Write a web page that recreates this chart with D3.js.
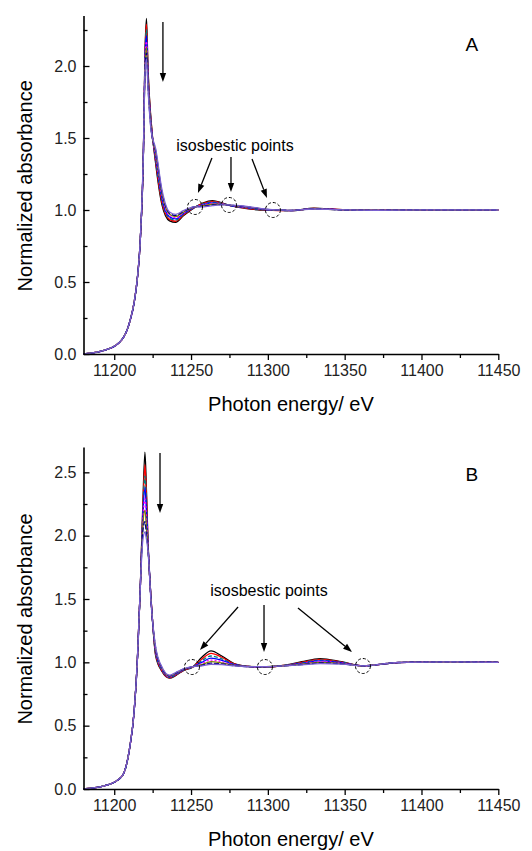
<!DOCTYPE html>
<html>
<head>
<meta charset="utf-8">
<script src="https://cdn.jsdelivr.net/npm/d3@7"></script>
<style>
  body { margin: 0; background: #fff; }
  svg { display: block; font-family: "Liberation Sans", Arial, sans-serif; }
</style>
</head>
<body>
<div id="chart"></div>
<script>
"use strict";

// photon energy grids (eV)
var energyA = [11180, 11195, 11205, 11210, 11213, 11215, 11217, 11219, 11220, 11221, 11222,
  11224, 11227, 11231, 11236, 11240, 11245, 11252, 11258, 11264, 11270, 11275, 11285,
  11295, 11303, 11315, 11330, 11345, 11370, 11400, 11450];

var energyB = [11180, 11195, 11205, 11210, 11213, 11215, 11217, 11218.5, 11220, 11221, 11222,
  11224, 11227, 11231, 11236, 11240, 11245, 11251, 11257, 11263, 11270, 11278, 11287,
  11297, 11310, 11322, 11334, 11348, 11362, 11385, 11420, 11450];

// normalized absorbance, one row per spectrum (white line decreasing with time)
var spectraA = [
  [0, 0.03, 0.10, 0.22, 0.36, 0.52, 0.80, 1.40, 2.08, 2.33, 1.98, 1.62, 1.32, 1.04, 0.925, 0.915, 0.960, 1.015, 1.050, 1.065, 1.050, 1.032, 1.012, 1.000, 0.998, 0.995, 1.012, 1.004, 0.998, 1.001, 1.0],
  [0, 0.03, 0.10, 0.22, 0.36, 0.52, 0.80, 1.40, 2.06, 2.29, 1.96, 1.61, 1.335, 1.055, 0.935, 0.922, 0.965, 1.016, 1.046, 1.060, 1.048, 1.032, 1.014, 1.002, 0.998, 0.995, 1.011, 1.004, 0.998, 1.001, 1.0],
  [0, 0.03, 0.10, 0.22, 0.36, 0.52, 0.80, 1.40, 2.04, 2.25, 1.94, 1.60, 1.35, 1.07, 0.943, 0.93, 0.970, 1.017, 1.042, 1.055, 1.046, 1.032, 1.016, 1.004, 0.999, 0.996, 1.010, 1.003, 0.998, 1.001, 1.0],
  [0, 0.03, 0.10, 0.22, 0.36, 0.52, 0.80, 1.40, 2.02, 2.21, 1.92, 1.59, 1.365, 1.085, 0.952, 0.938, 0.975, 1.018, 1.038, 1.050, 1.044, 1.033, 1.018, 1.006, 0.999, 0.996, 1.010, 1.003, 0.998, 1.001, 1.0],
  [0, 0.03, 0.10, 0.22, 0.36, 0.52, 0.80, 1.40, 2.00, 2.17, 1.90, 1.58, 1.38, 1.10, 0.961, 0.946, 0.980, 1.019, 1.034, 1.045, 1.042, 1.033, 1.020, 1.008, 1.000, 0.997, 1.009, 1.003, 0.998, 1.001, 1.0],
  [0, 0.03, 0.10, 0.22, 0.36, 0.52, 0.80, 1.40, 1.98, 2.13, 1.88, 1.57, 1.395, 1.115, 0.970, 0.954, 0.985, 1.020, 1.030, 1.040, 1.040, 1.034, 1.022, 1.009, 1.001, 0.997, 1.008, 1.002, 0.998, 1.001, 1.0],
  [0, 0.03, 0.10, 0.22, 0.36, 0.52, 0.80, 1.40, 1.96, 2.09, 1.86, 1.56, 1.41, 1.13, 0.978, 0.962, 0.990, 1.021, 1.026, 1.035, 1.038, 1.034, 1.024, 1.010, 1.001, 0.998, 1.008, 1.002, 0.998, 1.001, 1.0],
  [0, 0.03, 0.10, 0.22, 0.36, 0.52, 0.80, 1.40, 1.94, 2.05, 1.84, 1.55, 1.425, 1.145, 0.986, 0.970, 0.995, 1.022, 1.022, 1.030, 1.036, 1.035, 1.026, 1.012, 1.002, 0.998, 1.007, 1.002, 0.998, 1.001, 1.0]
];

var spectraB = [
  [0, 0.03, 0.10, 0.32, 0.62, 1.00, 1.60, 2.20, 2.66, 2.35, 1.95, 1.50, 1.05, 0.930, 0.875, 0.895, 0.935, 0.962, 1.040, 1.090, 1.050, 0.990, 0.968, 0.962, 0.975, 1.005, 1.030, 1.005, 0.972, 0.998, 1.006, 1.0],
  [0, 0.03, 0.10, 0.32, 0.62, 1.00, 1.60, 2.17, 2.56, 2.30, 1.94, 1.50, 1.06, 0.935, 0.878, 0.898, 0.937, 0.963, 1.025, 1.070, 1.040, 0.987, 0.968, 0.963, 0.975, 1.000, 1.024, 1.002, 0.972, 0.998, 1.006, 1.0],
  [0, 0.03, 0.10, 0.32, 0.62, 1.00, 1.60, 2.14, 2.47, 2.24, 1.93, 1.49, 1.07, 0.940, 0.881, 0.902, 0.939, 0.963, 1.012, 1.050, 1.028, 0.984, 0.968, 0.963, 0.974, 0.996, 1.018, 0.999, 0.972, 0.998, 1.005, 1.0],
  [0, 0.03, 0.10, 0.32, 0.62, 1.00, 1.60, 2.11, 2.38, 2.18, 1.92, 1.49, 1.08, 0.945, 0.884, 0.906, 0.941, 0.964, 1.000, 1.033, 1.016, 0.981, 0.967, 0.964, 0.974, 0.992, 1.012, 0.996, 0.972, 0.998, 1.005, 1.0],
  [0, 0.03, 0.10, 0.32, 0.62, 1.00, 1.60, 2.08, 2.29, 2.12, 1.91, 1.48, 1.09, 0.950, 0.887, 0.910, 0.943, 0.964, 0.990, 1.018, 1.005, 0.978, 0.967, 0.964, 0.973, 0.988, 1.006, 0.993, 0.972, 0.999, 1.004, 1.0],
  [0, 0.03, 0.10, 0.32, 0.62, 1.00, 1.60, 2.05, 2.20, 2.06, 1.90, 1.48, 1.10, 0.955, 0.890, 0.913, 0.945, 0.965, 0.982, 1.005, 0.995, 0.976, 0.967, 0.965, 0.973, 0.985, 1.000, 0.990, 0.972, 0.999, 1.004, 1.0],
  [0, 0.03, 0.10, 0.32, 0.62, 1.00, 1.60, 2.02, 2.11, 2.00, 1.89, 1.47, 1.11, 0.960, 0.894, 0.916, 0.947, 0.965, 0.976, 0.993, 0.988, 0.974, 0.966, 0.965, 0.972, 0.982, 0.995, 0.988, 0.972, 0.999, 1.003, 1.0],
  [0, 0.03, 0.10, 0.32, 0.62, 1.00, 1.60, 1.95, 2.03, 1.97, 1.88, 1.47, 1.12, 0.965, 0.898, 0.920, 0.949, 0.966, 0.972, 0.985, 0.982, 0.972, 0.966, 0.966, 0.972, 0.980, 0.990, 0.986, 0.972, 0.999, 1.003, 1.0]
];

// Origin-like line colours and styles
var lineColors = ["#000000", "#ff0000", "#008080", "#0000ff", "#ff00ff", "#808000", "#000080", "#7b61d1"];
var lineDashes = [null, null, "4,2", null, "2,2", null, "5,2", null];

var xTicks = [11200, 11250, 11300, 11350, 11400, 11450];
var xMinorTicks = [11225, 11275, 11325, 11375, 11425];
var yTicksA = [0, 0.5, 1.0, 1.5, 2.0];
var yMinorA = [0.25, 0.75, 1.25, 1.75, 2.25];
var yTicksB = [0, 0.5, 1.0, 1.5, 2.0, 2.5];
var yMinorB = [0.25, 0.75, 1.25, 1.75, 2.25];

// isosbestic points (energy, absorbance)
var isoEnergyA = [11252.6, 11274.7, 11303.3];
var isoValueA = [1.021, 1.035, 1.0];
var isoEnergyB = [11250.6, 11298.1, 11361.9];
var isoValueB = [0.963, 0.963, 0.971];

var width = 532, height = 851;

var svg = d3.select("#chart").append("svg")
    .attr("width", width)
    .attr("height", height);

var x = d3.scaleLinear().domain([11180, 11450]).range([83.5, 498.3]);

var panels = [
  { name: "A", energy: energyA, spectra: spectraA, yMax: 2.35, bottom: 354, top: 15.6,
    yTicks: yTicksA, yMinor: yMinorA, isoE: isoEnergyA, isoV: isoValueA,
    label: [11432.8, 2.104], text: [11278.6, 1.41],
    drop: [11231.7, 2.306, 1.889],
    pointers: [[11263.6, 1.361, 11254.5, 1.118], [11276.0, 1.368, 11276.0, 1.125], [11289.7, 1.354, 11299.4, 1.083]] },
  { name: "B", energy: energyB, spectra: spectraB, yMax: 2.7, bottom: 789, top: 447,
    yTicks: yTicksB, yMinor: yMinorB, isoE: isoEnergyB, isoV: isoValueB,
    label: [11432.8, 2.432], text: [11300.7, 1.524],
    drop: [11229.8, 2.653, 2.179],
    pointers: [[11280.6, 1.437, 11255.8, 1.097], [11297.5, 1.453, 11297.5, 1.082], [11319.6, 1.429, 11354.8, 1.082]] }
];

function arrow(g, x1, y1, x2, y2) {
  var ang = Math.atan2(y2 - y1, x2 - x1), len = 9, w = 3.2;
  var bx = x2 - len * Math.cos(ang), by = y2 - len * Math.sin(ang);
  g.append("line")
      .attr("x1", x1).attr("y1", y1).attr("x2", bx).attr("y2", by)
      .attr("stroke", "#000").attr("stroke-width", 1.3);
  g.append("path")
      .attr("d", "M" + x2 + "," + y2 +
                 "L" + (bx + w * Math.sin(ang)) + "," + (by - w * Math.cos(ang)) +
                 "L" + (bx - w * Math.sin(ang)) + "," + (by + w * Math.cos(ang)) + "Z")
      .attr("fill", "#000");
}

panels.forEach(function (p) {
  var y = d3.scaleLinear().domain([0, p.yMax]).range([p.bottom, p.top]);
  var g = svg.append("g");

  var line = d3.line()
      .x(function (d) { return x(d[0]); })
      .y(function (d) { return y(d[1]); })
      .curve(d3.curveMonotoneX);

  p.spectra.forEach(function (s, i) {
    g.append("path")
        .datum(p.energy.map(function (e, j) { return [e, s[j]]; }))
        .attr("d", line)
        .attr("fill", "none")
        .attr("stroke", lineColors[i % lineColors.length])
        .attr("stroke-width", 1.3)
        .attr("stroke-dasharray", lineDashes[i % lineDashes.length]);
  });

  // axes (x ticks outward, y ticks inward as in the original plot)
  g.append("g").attr("transform", "translate(0," + p.bottom + ")")
      .call(d3.axisBottom(x).tickValues(xTicks).tickSize(6).tickSizeOuter(0).tickPadding(5)
            .tickFormat(d3.format("d")));
  g.append("g").attr("transform", "translate(0," + p.bottom + ")")
      .call(d3.axisBottom(x).tickValues(xMinorTicks).tickSize(4).tickFormat(""))
      .select(".domain").remove();

  g.append("g").attr("transform", "translate(" + x.range()[0] + ",0)")
      .call(d3.axisLeft(y).tickValues(p.yTicks).tickSizeInner(-6).tickSizeOuter(0).tickPadding(7)
            .tickFormat(d3.format(".1f")));
  g.append("g").attr("transform", "translate(" + x.range()[0] + ",0)")
      .call(d3.axisLeft(y).tickValues(p.yMinor).tickSizeInner(-4).tickSizeOuter(0).tickFormat(""))
      .select(".domain").remove();

  g.selectAll(".domain").attr("stroke-width", 1.6);
  g.selectAll(".tick line").attr("stroke-width", 1.3);
  g.selectAll(".tick text").attr("font-size", 16).attr("fill", "#222")
      .attr("font-family", "'Liberation Sans', Arial, sans-serif");

  g.append("text")
      .attr("x", (x.range()[0] + x.range()[1]) / 2)
      .attr("y", p.bottom + 57)
      .attr("text-anchor", "middle")
      .attr("font-size", 20)
      .text("Photon energy/ eV");

  g.append("text")
      .attr("transform", "translate(32," + ((p.top + p.bottom) / 2 + 1) + ") rotate(-90)")
      .attr("text-anchor", "middle")
      .attr("font-size", 20)
      .text("Normalized absorbance");

  g.append("text")
      .attr("x", x(p.label[0])).attr("y", y(p.label[1]))
      .attr("text-anchor", "middle")
      .attr("font-size", 19)
      .text(p.name);

  g.append("text")
      .attr("x", x(p.text[0])).attr("y", y(p.text[1]))
      .attr("text-anchor", "middle")
      .attr("font-size", 16)
      .text("isosbestic points");

  // dashed circles around the isosbestic points
  g.selectAll("circle.iso").data(p.isoE).enter().append("circle")
      .attr("class", "iso")
      .attr("cx", function (d) { return x(d); })
      .attr("cy", function (d, i) { return y(p.isoV[i]); })
      .attr("r", 7.5)
      .attr("fill", "none")
      .attr("stroke", "#000")
      .attr("stroke-width", 1)
      .attr("stroke-dasharray", "3,2");

  p.pointers.forEach(function (a) {
    arrow(g, x(a[0]), y(a[1]), x(a[2]), y(a[3]));
  });
  arrow(g, x(p.drop[0]), y(p.drop[1]), x(p.drop[0]), y(p.drop[2]));
});
</script>
</body>
</html>
